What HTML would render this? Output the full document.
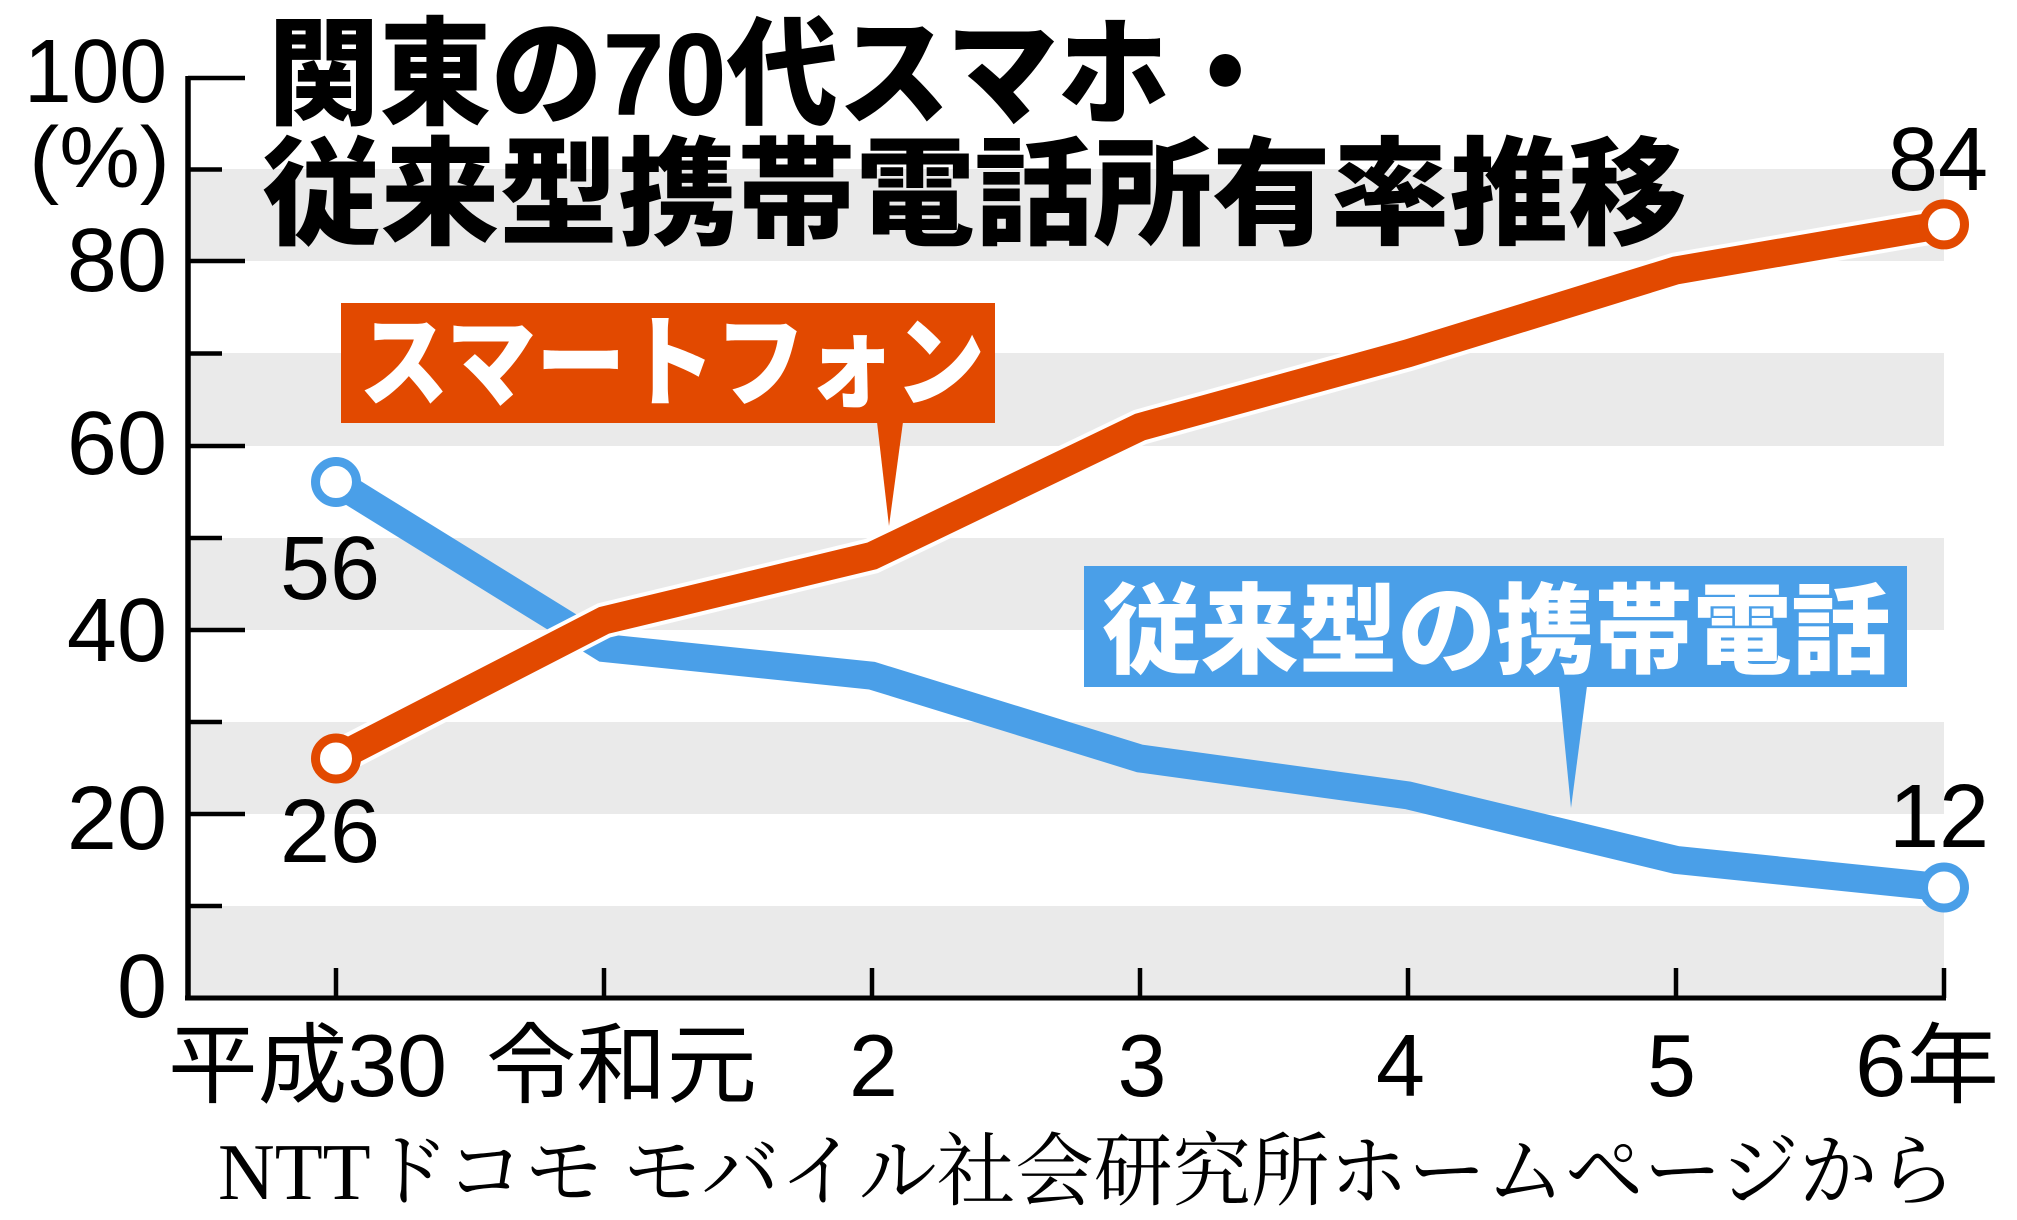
<!DOCTYPE html>
<html><head><meta charset="utf-8"><style>
html,body{margin:0;padding:0;background:#fff;}
svg{display:block;}
.sans{font-family:"Liberation Sans","Noto Sans CJK JP",sans-serif;}
.bold{font-family:"Liberation Sans","Noto Sans CJK JP",sans-serif;font-weight:900;}
.serif{font-family:"Liberation Serif","Noto Serif CJK SC",serif;}
</style></head><body>
<svg width="2017" height="1220" viewBox="0 0 2017 1220" xmlns="http://www.w3.org/2000/svg">
<rect x="0" y="0" width="2017" height="1220" fill="#fff"/>
<!-- bands -->
<g fill="#eaeaea">
<rect x="190" y="169" width="1754" height="92"/>
<rect x="190" y="353" width="1754" height="93"/>
<rect x="190" y="538" width="1754" height="92"/>
<rect x="190" y="722" width="1754" height="92"/>
<rect x="190" y="906" width="1754" height="92"/>
</g>
<!-- axes -->
<g stroke="#000" fill="none">
<line x1="188" y1="76" x2="188" y2="1000" stroke-width="5.5"/>
<line x1="185" y1="998" x2="1946" y2="998" stroke-width="5"/>
<g stroke-width="4.5">
<line x1="188" y1="78" x2="245" y2="78"/>
<line x1="188" y1="169.5" x2="222" y2="169.5"/>
<line x1="188" y1="261" x2="245" y2="261"/>
<line x1="188" y1="353.5" x2="222" y2="353.5"/>
<line x1="188" y1="446" x2="245" y2="446"/>
<line x1="188" y1="538" x2="222" y2="538"/>
<line x1="188" y1="630" x2="245" y2="630"/>
<line x1="188" y1="722" x2="222" y2="722"/>
<line x1="188" y1="814" x2="245" y2="814"/>
<line x1="188" y1="906" x2="222" y2="906"/>
</g>
<g stroke-width="4.5">
<line x1="336" y1="968" x2="336" y2="998"/>
<line x1="604" y1="968" x2="604" y2="998"/>
<line x1="872" y1="968" x2="872" y2="998"/>
<line x1="1140" y1="968" x2="1140" y2="998"/>
<line x1="1408" y1="968" x2="1408" y2="998"/>
<line x1="1676" y1="968" x2="1676" y2="998"/>
<line x1="1944" y1="968" x2="1944" y2="998"/>
</g>
</g>
<!-- y labels -->
<g class="sans" font-size="90" fill="#000" text-anchor="end">
<text x="167" y="102" textLength="143" lengthAdjust="spacingAndGlyphs">100</text>
<text x="167" y="291">80</text>
<text x="167" y="474">60</text>
<text x="167" y="661">40</text>
<text x="167" y="849">20</text>
<text x="167" y="1017">0</text>
</g>
<text class="sans" x="29" y="187" font-size="86" textLength="141" lengthAdjust="spacingAndGlyphs">(%)</text>
<!-- title -->
<text class="bold" x="268" y="115" font-size="117" textLength="1013" lengthAdjust="spacingAndGlyphs">関東の70代スマホ・</text>
<text class="bold" x="262" y="235" font-size="117" textLength="1425" lengthAdjust="spacingAndGlyphs">従来型携帯電話所有率推移</text>
<!-- blue series -->
<polyline points="336,482.2 604,648 872,675.7 1140,758.5 1408,795.4 1676,859.9 1944,887.5" fill="none" stroke="#4a9fe8" stroke-width="28" stroke-linejoin="miter"/>
<!-- orange series -->
<polyline points="336,758.5 604,620.4 872,555.9 1140,427 1408,353.3 1676,270.4 1944,224.4" fill="none" stroke="#fff" stroke-width="36" stroke-linejoin="miter"/>
<polyline points="336,758.5 604,620.4 872,555.9 1140,427 1408,353.3 1676,270.4 1944,224.4" fill="none" stroke="#e24900" stroke-width="28" stroke-linejoin="miter"/>
<!-- circles -->
<circle cx="336" cy="482" r="20.5" fill="#fff" stroke="#4a9fe8" stroke-width="9"/>
<circle cx="1944" cy="887.5" r="20.5" fill="#fff" stroke="#4a9fe8" stroke-width="9"/>
<circle cx="336" cy="758.5" r="20.5" fill="#fff" stroke="#e24900" stroke-width="9"/>
<circle cx="1944" cy="224.4" r="20.5" fill="#fff" stroke="#e24900" stroke-width="9"/>
<!-- orange label -->
<rect x="341" y="303" width="654" height="120" fill="#e24900"/>
<polygon points="877,422 903,422 889,526" fill="#e24900"/>
<text class="bold" x="359" y="398" font-size="100" fill="#fff" textLength="626" lengthAdjust="spacingAndGlyphs">スマートフォン</text>
<!-- blue label -->
<rect x="1084" y="566" width="823" height="121" fill="#4a9fe8"/>
<polygon points="1559,686 1587,686 1571,808" fill="#4a9fe8"/>
<text class="bold" x="1102" y="665" font-size="98" fill="#fff" textLength="788" lengthAdjust="spacingAndGlyphs">従来型の携帯電話</text>
<!-- data labels -->
<g class="sans" font-size="90" fill="#000" text-anchor="middle">
<text x="330" y="599">56</text>
<text x="330" y="862">26</text>
<text x="1938" y="190">84</text>
<text x="1939" y="847">12</text>
</g>
<!-- x labels -->
<g class="sans" font-size="88" fill="#000">
<text x="168" y="1096" textLength="279" lengthAdjust="spacingAndGlyphs">平成30</text>
<text x="486" y="1096" textLength="271" lengthAdjust="spacingAndGlyphs">令和元</text>
<text x="873.5" y="1096" text-anchor="middle">2</text>
<text x="1142" y="1096" text-anchor="middle">3</text>
<text x="1400.5" y="1096" text-anchor="middle">4</text>
<text x="1671.5" y="1096" text-anchor="middle">5</text>
<text x="1855" y="1096" textLength="144" lengthAdjust="spacingAndGlyphs">6年</text>
</g>
<!-- source -->
<text class="serif" x="218" y="1199" font-size="80" fill="#000" textLength="1738" lengthAdjust="spacingAndGlyphs">NTTドコモ モバイル社会研究所ホームページから</text>
</svg>
</body></html>
